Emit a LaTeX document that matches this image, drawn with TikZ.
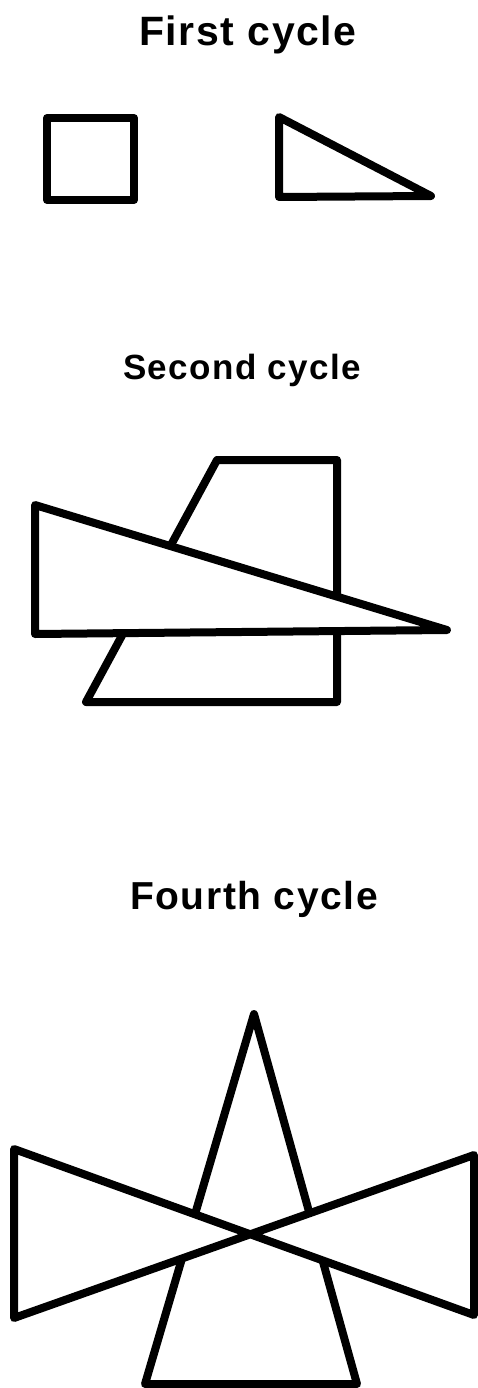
\documentclass[tikz,border=0pt]{standalone}
\usepackage{fontspec}
\setmainfont{Liberation Sans}
\newfontfamily\cyclefont[LetterSpace=4]{Liberation Sans}

\begin{document}
\begin{tikzpicture}[x=1pt, y=-1pt,
    cycletitle/.style={anchor=base, inner sep=0pt, font=\cyclefont\bfseries\fontsize{41}{44}\selectfont},
    outline/.style={draw=black, line width=8pt, line join=round}]
    \useasboundingbox (0,0) rectangle (478,1388);

    \node[cycletitle] (first) at (248,46) {First cycle};
    \draw[outline] (47,118) rectangle (134,200);
    \draw[outline] (279,117) -- (279,197) -- (431,196) -- cycle;

    \node[cycletitle, font=\cyclefont\bfseries\fontsize{35}{38}\selectfont] (second) at (242,379) {Second cycle};
    \draw[outline] (217,460) -- (337,460) -- (337,702) -- (86,702) -- cycle;
    \draw[outline, fill=white] (35,505) -- (35,634) -- (447,630) -- cycle;

    \node[cycletitle, font=\cyclefont\bfseries\fontsize{39}{42}\selectfont] (fourth) at (254,909) {Fourth cycle};
    \draw[outline] (254,1014) -- (357,1384) -- (145,1384) -- cycle;
    \draw[outline, fill=white] (14,1149) -- (474,1315) -- (474,1155) -- (14,1318) -- cycle;
\end{tikzpicture}
\end{document}
